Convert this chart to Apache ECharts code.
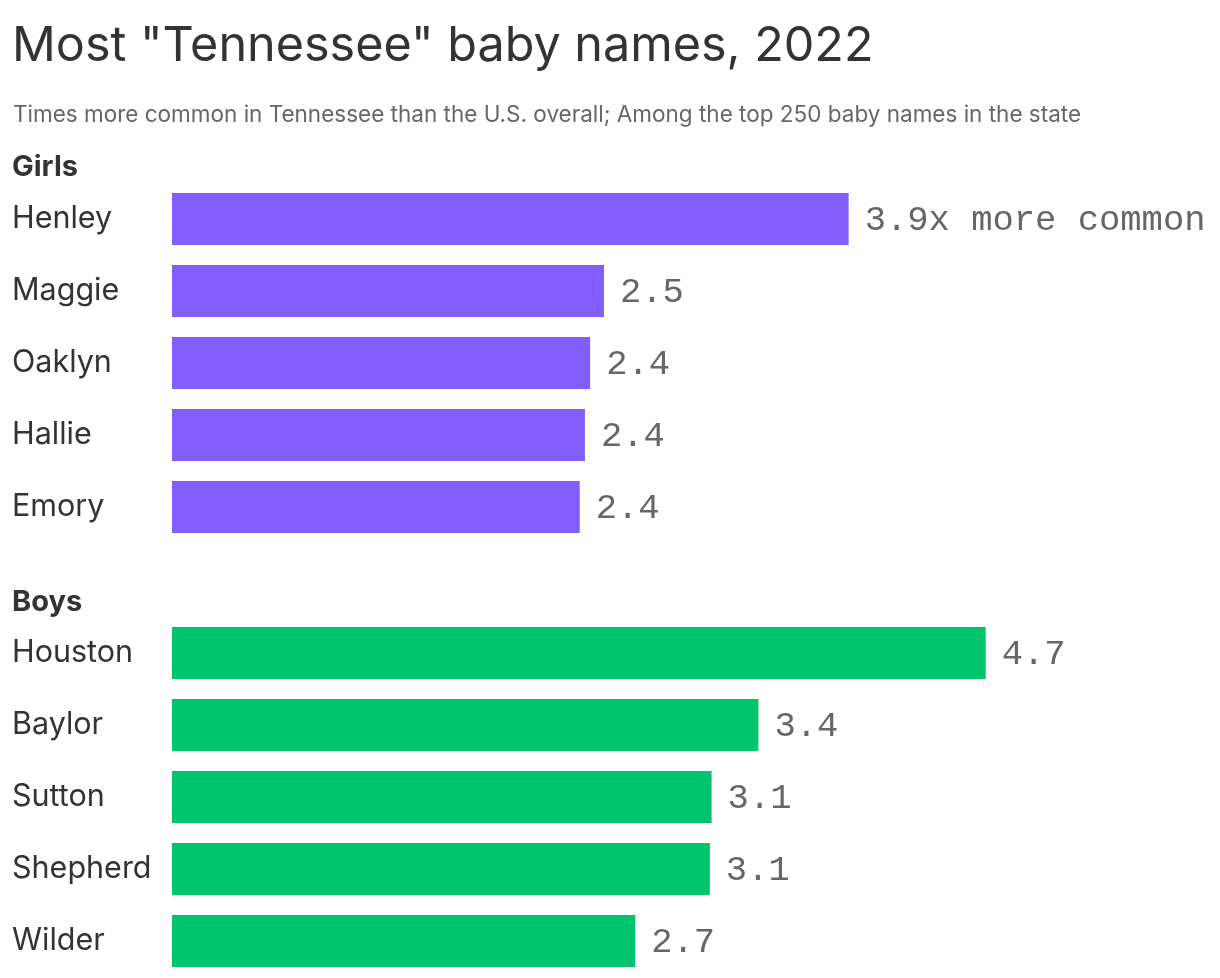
<!DOCTYPE html>
<html>
<head>
<meta charset="utf-8">
<script src="https://cdn.jsdelivr.net/npm/echarts@6/dist/echarts.min.js"></script>
<style>
html,body{margin:0;padding:0;background:#fff;}
#chart{width:1220px;height:978px;}
</style>
</head>
<body>
<div id="chart"></div>
<script>
const girlNames = ["Henley", "Maggie", "Oaklyn", "Hallie", "Emory"];
const girlValues = [3.9, 2.49, 2.41, 2.38, 2.35];
const girlLabels = ["3.9x more common", "2.5", "2.4", "2.4", "2.4"];

const boyNames = ["Houston", "Baylor", "Sutton", "Shepherd", "Wilder"];
const boyValues = [4.69, 3.38, 3.11, 3.1, 2.67];
const boyLabels = ["4.7", "3.4", "3.1", "3.1", "2.7"];

const titleText = 'Most "Tennessee" baby names, 2022';
const subtitleText = 'Times more common in Tennessee than the U.S. overall; Among the top 250 baby names in the state';

const SANS = 'Inter, "Noto Sans", sans-serif';
const MONO = '"Liberation Mono", "DejaVu Sans Mono", monospace';
const PURPLE = '#825dfe';
const GREEN = '#00c56c';

const chart = echarts.init(document.getElementById('chart'), null, {renderer: 'canvas'});

function yAxisFor(gridIndex, names) {
  return {
    type: 'category', gridIndex: gridIndex, data: names, inverse: true,
    axisLine: {show: false}, axisTick: {show: false}, splitLine: {show: false},
    axisLabel: {align: 'left', margin: 160, fontFamily: SANS, fontSize: 30.5, color: '#333'}
  };
}
function xAxisFor(gridIndex) {
  return {type: 'value', gridIndex: gridIndex, min: 0, max: 6, show: false};
}
function seriesFor(idx, values, labels, color) {
  return {
    type: 'bar', xAxisIndex: idx, yAxisIndex: idx, data: values, barWidth: 52,
    itemStyle: {color: color}, silent: true, animation: false,
    label: {
      show: true, position: 'right', distance: 16, offset: [0, 2],
      fontFamily: MONO, fontSize: 35.5, color: '#666',
      formatter: function (p) { return labels[p.dataIndex]; }
    }
  };
}

chart.setOption({
  animation: false,
  title: [
    {text: titleText, left: 7, top: 17, textStyle: {fontFamily: SANS, fontSize: 48.5, fontWeight: 'normal', color: '#333'}},
    {text: subtitleText, left: 8, top: 99, textStyle: {fontFamily: SANS, fontSize: 22.5, fontWeight: 'normal', color: '#666'}},
    {text: 'Girls', left: 7, top: 148, textStyle: {fontFamily: SANS, fontSize: 29, fontWeight: 'bold', color: '#333'}},
    {text: 'Boys', left: 7, top: 583, textStyle: {fontFamily: SANS, fontSize: 29, fontWeight: 'bold', color: '#333'}}
  ],
  grid: [
    {left: 172, top: 183, width: 1041, height: 360},
    {left: 172, top: 617, width: 1041, height: 360}
  ],
  xAxis: [xAxisFor(0), xAxisFor(1)],
  yAxis: [yAxisFor(0, girlNames), yAxisFor(1, boyNames)],
  series: [seriesFor(0, girlValues, girlLabels, PURPLE), seriesFor(1, boyValues, boyLabels, GREEN)]
});
</script>
</body>
</html>
